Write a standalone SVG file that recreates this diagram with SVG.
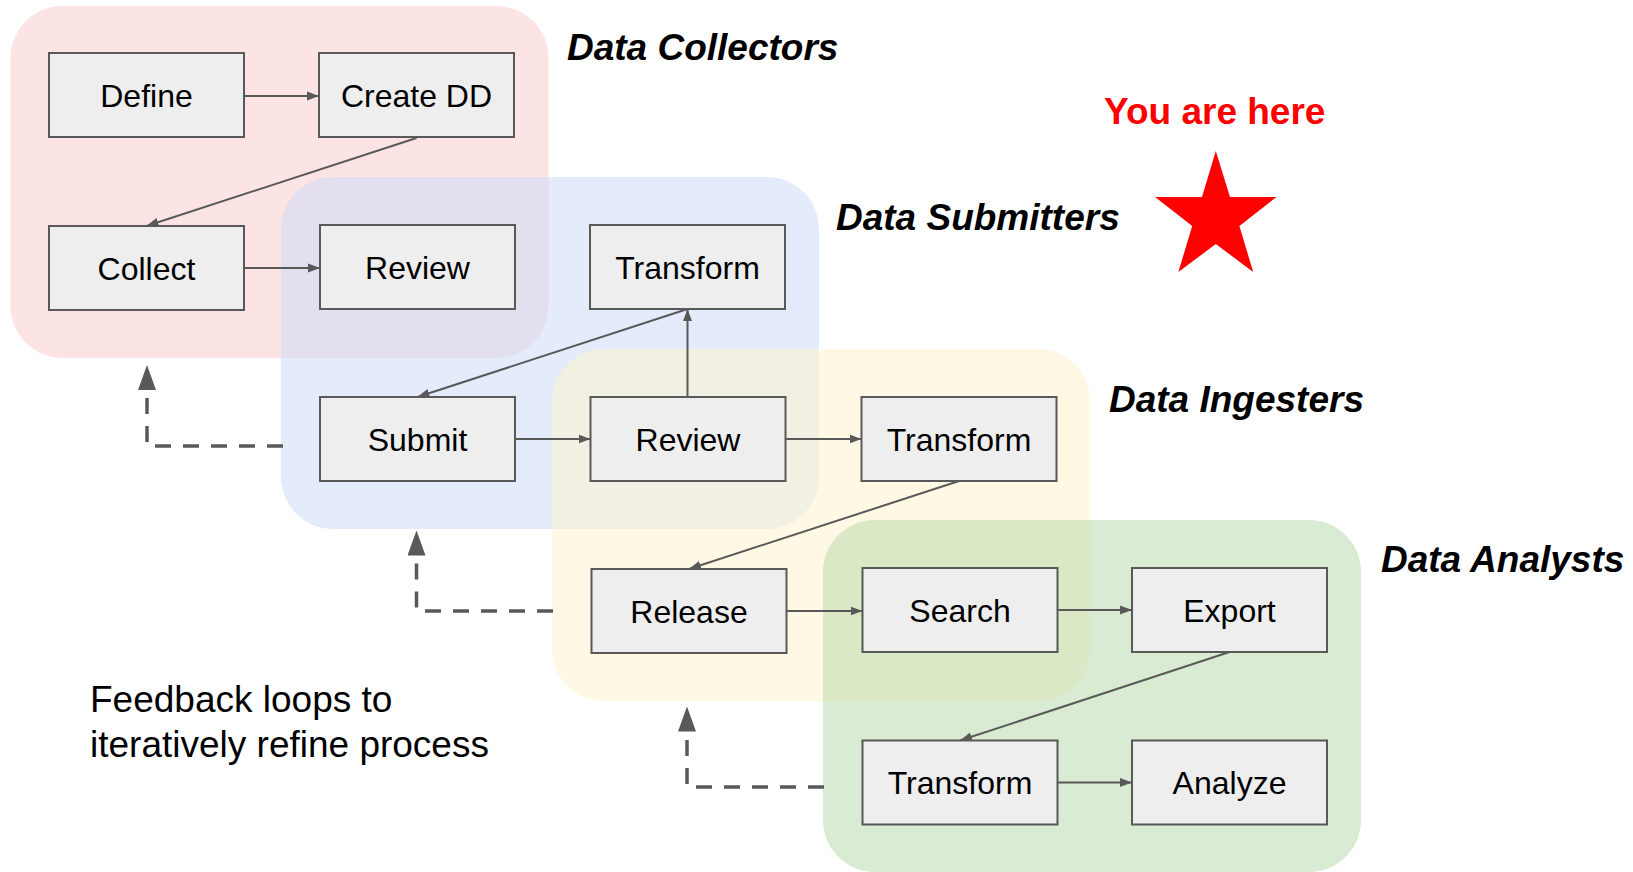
<svg xmlns="http://www.w3.org/2000/svg" width="1633" height="872" viewBox="0 0 1633 872">
<style>
.node rect{fill:#eeeeee;stroke:#595959;stroke-width:2}
.node text{font-family:"Liberation Sans",Arial,sans-serif;font-size:32px;fill:#000;text-anchor:middle}
.lane{font-family:"Liberation Sans",Arial,sans-serif;font-size:37px;font-weight:bold;font-style:italic;fill:#000}
.conn{stroke:#595959;stroke-width:2;fill:none;marker-end:url(#ah)}
.fb{stroke:#595959;stroke-width:3.5;fill:none;stroke-dasharray:16 12;marker-end:url(#big)}
</style>
<defs>
<marker id="ah" markerUnits="userSpaceOnUse" markerWidth="12" markerHeight="10" refX="12" refY="5" orient="auto" viewBox="0 0 12 10"><path d="M0,0.5 L12,5 L0,9.5 z" fill="#595959"/></marker>
<marker id="big" markerUnits="userSpaceOnUse" markerWidth="25" markerHeight="18" refX="0" refY="9" orient="auto" viewBox="0 0 25 18"><path d="M0,0 L25,9 L0,18 z" fill="#595959"/></marker>
</defs>
<rect width="1633" height="872" fill="#ffffff"/>
<g id="regions">
<rect id="collectors-region" x="10.5" y="6" width="538" height="352" rx="52" fill="#fcc9c9" fill-opacity="0.5"/>
<rect id="submitters-region" x="281" y="177" width="538" height="352" rx="52" fill="#c9daf8" fill-opacity="0.5"/>
<rect id="ingesters-region" x="552" y="349" width="538" height="352" rx="52" fill="#fff2cc" fill-opacity="0.5"/>
<rect id="analysts-region" x="823" y="520" width="538" height="352" rx="52" fill="#b6d7a8" fill-opacity="0.5"/>
</g>
<g id="labels">
<text class="lane" x="567" y="60">Data Collectors</text>
<text class="lane" x="836" y="230">Data Submitters</text>
<text class="lane" x="1109" y="412">Data Ingesters</text>
<text class="lane" x="1381" y="572">Data Analysts</text>
<text x="1104" y="124" font-family="'Liberation Sans',Arial,sans-serif" font-size="37" font-weight="bold" fill="#ff0000">You are here</text>
<polygon id="star" points="1215.8,151 1230,197 1276.5,197 1239.4,226 1253.2,272 1215.8,244 1178.4,272 1192.2,226 1155.1,197 1202,197" fill="#ff0000"/>
<text font-family="'Liberation Sans',Arial,sans-serif" font-size="37" fill="#000"><tspan x="90" y="712">Feedback loops to</tspan><tspan x="90" y="757">iteratively refine process</tspan></text>
</g>
<g id="connectors">
<path class="conn" d="M244,96 L319,96"/>
<path class="conn" d="M416.5,138 L146.5,226"/>
<path class="conn" d="M244,268 L320,268"/>
<path class="conn" d="M687.5,397 L687.5,309"/>
<path class="conn" d="M687.5,309 L417.5,397"/>
<path class="conn" d="M515,439 L590.5,439"/>
<path class="conn" d="M785,439 L861.5,439"/>
<path class="conn" d="M959,481 L689,569"/>
<path class="conn" d="M786,611 L862.5,611"/>
<path class="conn" d="M1057,610 L1132,610"/>
<path class="conn" d="M1229.5,652 L960,740.5"/>
<path class="conn" d="M1057,782.5 L1132,782.5"/>
<path class="fb" d="M283,446 L147,446 L147,390"/>
<path class="fb" d="M553,611 L416.5,611 L416.5,555.5"/>
<path class="fb" d="M824,787 L687,787 L687,731.5"/>
</g>
<g id="node-define" class="node"><rect x="49" y="53" width="195" height="84"/><text x="146.5" y="106.5">Define</text></g>
<g id="node-create-dd" class="node"><rect x="319" y="53" width="195" height="84"/><text x="416.5" y="106.5">Create DD</text></g>
<g id="node-collect" class="node"><rect x="49" y="226" width="195" height="84"/><text x="146.5" y="279.5">Collect</text></g>
<g id="node-review-s" class="node"><rect x="320" y="225" width="195" height="84"/><text x="417.5" y="278.5">Review</text></g>
<g id="node-transform-s" class="node"><rect x="590" y="225" width="195" height="84"/><text x="687.5" y="278.5">Transform</text></g>
<g id="node-submit" class="node"><rect x="320" y="397" width="195" height="84"/><text x="417.5" y="450.5">Submit</text></g>
<g id="node-review-i" class="node"><rect x="590.5" y="397" width="195" height="84"/><text x="688" y="450.5">Review</text></g>
<g id="node-transform-i" class="node"><rect x="861.5" y="397" width="195" height="84"/><text x="959" y="450.5">Transform</text></g>
<g id="node-release" class="node"><rect x="591.5" y="569" width="195" height="84"/><text x="689" y="622.5">Release</text></g>
<g id="node-search" class="node"><rect x="862.5" y="568" width="195" height="84"/><text x="960" y="621.5">Search</text></g>
<g id="node-export" class="node"><rect x="1132" y="568" width="195" height="84"/><text x="1229.5" y="621.5">Export</text></g>
<g id="node-transform-a" class="node"><rect x="862.5" y="740.5" width="195" height="84"/><text x="960" y="794">Transform</text></g>
<g id="node-analyze" class="node"><rect x="1132" y="740.5" width="195" height="84"/><text x="1229.5" y="794">Analyze</text></g>
</svg>
